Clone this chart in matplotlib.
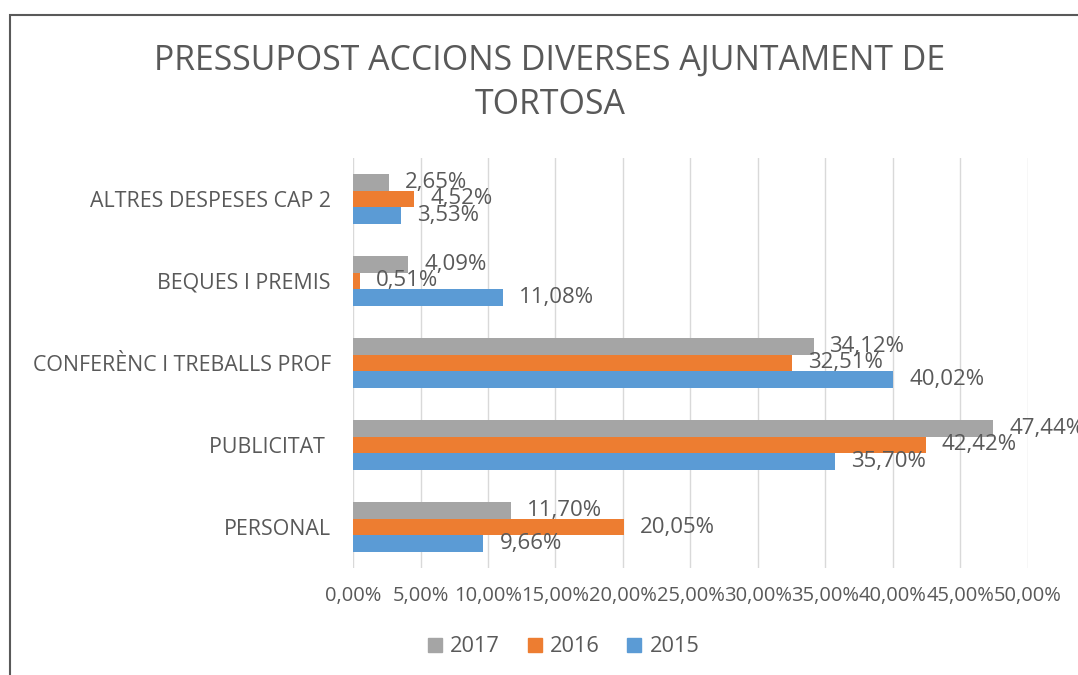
import matplotlib
matplotlib.use("Agg")
import matplotlib.pyplot as plt
from matplotlib.ticker import FuncFormatter
from matplotlib.lines import Line2D
import numpy as np

plt.rcParams['font.family'] = ['Open Sans', 'DejaVu Sans']

categories = ['PERSONAL', 'PUBLICITAT ', 'CONFERÈNC I TREBALLS PROF', 'BEQUES I PREMIS', 'ALTRES DESPESES CAP 2']
series = ['2017', '2016', '2015']
v2017 = [11.70, 47.44, 34.12, 4.09, 2.65]
v2016 = [20.05, 42.42, 32.51, 0.51, 4.52]
v2015 = [9.66, 35.70, 40.02, 11.08, 3.53]
colors = ['#A5A5A5', '#ED7D31', '#5B9BD5']
text_col = '#595959'

fig = plt.figure(figsize=(10.78, 6.75), dpi=100)
ax = fig.add_axes([0.3275, 0.1585, 0.626, 0.6075])

y = np.arange(len(categories))
h = 0.2
offsets = [h, 0, -h]
for vals, off, col in zip([v2017, v2016, v2015], offsets, colors):
    ax.barh(y + off, vals, height=h, color=col, zorder=3)
    for yi, v in zip(y, vals):
        lbl = f'{v:.2f}%'.replace('.', ',')
        ax.annotate(lbl, (v, yi + off), xytext=(11.5, 0), textcoords='offset points',
                    va='center', ha='left', fontsize=16, color=text_col,
                    annotation_clip=False, zorder=4)

ax.set_xlim(0, 50)
ax.set_ylim(-0.5, len(categories) - 0.5)
ax.set_xticks(np.arange(0, 51, 5))
ax.xaxis.set_major_formatter(FuncFormatter(lambda x, p: f'{x:.2f}%'.replace('.', ',')))
ax.set_yticks(y)
ax.set_yticklabels(categories)
ax.tick_params(axis='x', length=0, labelsize=14.5, labelcolor=text_col, pad=13)
ax.tick_params(axis='y', length=0, labelsize=15.4, labelcolor=text_col, pad=16)
ax.grid(axis='x', color='#D9D9D9', linewidth=1, zorder=0)
for s in ax.spines.values():
    s.set_visible(False)

fig.text(0.51, 0.877, 'PRESSUPOST ACCIONS DIVERSES AJUNTAMENT DE\nTORTOSA', ha='center', va='center',
         fontsize=24.4, color=text_col, linespacing=1.42)

handles = [Line2D([], [], marker='s', linestyle='none', markersize=9.5, color=c) for c in colors]
fig.legend(handles, series, loc='center', bbox_to_anchor=(0.52, 0.042), ncol=3, frameon=False,
           fontsize=15.7, labelcolor=text_col, handletextpad=0.1, columnspacing=1.0,
           handlelength=1.2)

# chart frame (partially cropped in the reference)
frame = plt.Rectangle((10 / 1078, -0.1), 1.2, 1.1 - 15 / 675, transform=fig.transFigure,
                      fill=False, edgecolor='#595959', linewidth=1.5)
fig.patches.append(frame)

fig.savefig('out.png', dpi=100)
